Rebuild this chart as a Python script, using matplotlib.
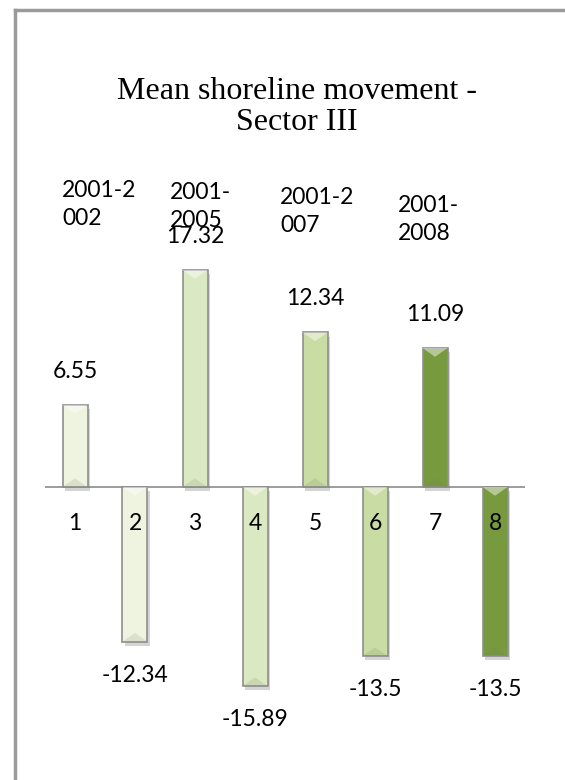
import matplotlib
matplotlib.use("Agg")
import matplotlib.pyplot as plt
from matplotlib.patches import Polygon
import matplotlib.patheffects as pe

# mean shoreline movement per transect group
categories = ["1", "2", "3", "4", "5", "6", "7", "8"]
values = [6.55, -12.34, 17.32, -15.89, 12.34, -13.5, 11.09, -13.5]
periods = ["2001-2\n002", "2001-\n2005", "2001-2\n007", "2001-\n2008"]
bar_colors = ["#eef4df", "#eef4df", "#dbe9c2", "#dbe9c2",
              "#c9dca3", "#c9dca3", "#789a3e", "#789a3e"]

W, H = 565, 780
fig = plt.figure(figsize=(W / 100, H / 100), dpi=100)


def fx(x):
    return x / W


def fy(y):
    return 1 - y / H


# axes placed so that 0 sits at y=487 px and one unit is ~12.5 px
ymin, ymax = -20, 20
zero_px, unit_px = 487, 12.53
top_px = zero_px - ymax * unit_px
bot_px = zero_px - ymin * unit_px
ax = fig.add_axes([fx(45), fy(bot_px), fx(480), (bot_px - top_px) / H])
ax.set_xlim(0.5, 8.5)
ax.set_ylim(ymin, ymax)
ax.axis("off")

x = list(range(1, len(values) + 1))
bars = ax.bar(x, values, width=25 / 60, color=bar_colors, edgecolor="#8f8f8f",
              linewidth=1.2, zorder=3)
for b in bars:
    b.set_path_effects([pe.SimplePatchShadow(offset=(1.5, -3), alpha=0.25,
                                             shadow_rgbFace="#555555"),
                        pe.Normal()])

# bevel highlights on the bar ends
tri_h = 0.7
for xi, v, c in zip(x, values, bar_colors):
    hw = 12.5 / 60
    top = max(v, 0)
    bot = min(v, 0)
    ax.add_patch(Polygon([[xi - hw, top], [xi + hw, top], [xi, top - tri_h]],
                         closed=True, facecolor="white", alpha=0.45,
                         edgecolor="none", zorder=4))
    ax.add_patch(Polygon([[xi - hw, bot], [xi + hw, bot], [xi, bot + tri_h]],
                         closed=True, facecolor="#6b7a55", alpha=0.15,
                         edgecolor="none", zorder=4))

ax.axhline(0, color="#8c8c8c", linewidth=1.2, zorder=2)

lab_font = dict(family=["Lato", "DejaVu Sans"], fontsize=16.5, color="black")

# value labels
for xi, v in zip(x, values):
    off = 2.7 if v > 0 else -2.7
    ax.text(xi, v + off, f"{v:g}", ha="center", va="center", zorder=5, **lab_font)

# category labels along the zero line
for xi, c in zip(x, categories):
    ax.text(xi, -2.9, c, ha="center", va="center", zorder=5, **lab_font)

# period labels above the bars
period_pos = [(62, 180), (170, 182), (280, 187), (398, 195)]
for (px, py), t in zip(period_pos, periods):
    fig.text(fx(px), fy(py), t, ha="left", va="top", linespacing=1.4, **lab_font)

fig.text(fx(297), fy(107), "Mean shoreline movement -\nSector III", ha="center",
         va="center", family=["Liberation Serif", "DejaVu Serif"], fontsize=23,
         linespacing=1.08)

# chart frame
fig.add_artist(plt.Line2D([fx(15), fx(15)], [fy(10), 0], color="#9a9a9a", lw=2.5))
fig.add_artist(plt.Line2D([fx(15), 1], [fy(10), fy(10)], color="#9a9a9a", lw=2.5))

fig.savefig("out.png", dpi=100)
